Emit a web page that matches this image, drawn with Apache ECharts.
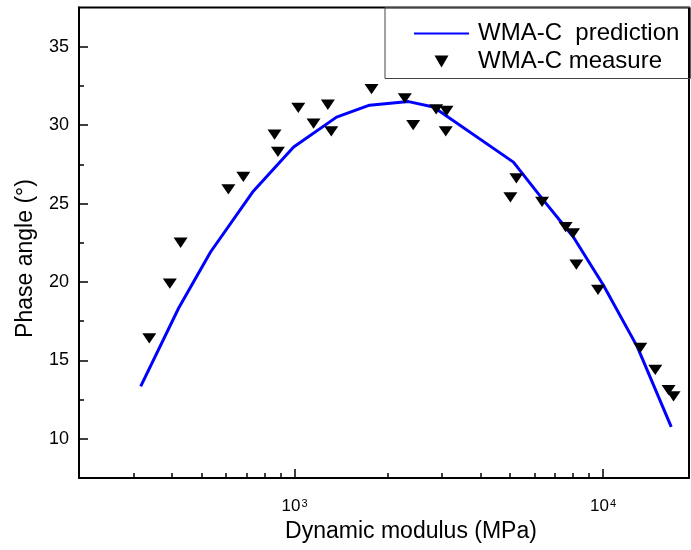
<!DOCTYPE html>
<html><head><meta charset="utf-8">
<script src="https://cdn.jsdelivr.net/npm/echarts@6/dist/echarts.min.js"></script>
<style>html,body{margin:0;padding:0;background:#fff}#c{width:691px;height:550px}</style>
</head><body><div id="c"></div>
<script>
// Measured points (Dynamic modulus MPa, Phase angle deg)
const measureX = [338, 394, 427, 610, 682, 861, 883, 1028, 1152, 1282, 1315, 1776, 2277, 2424, 2877, 3107, 3091, 5008, 5237, 6344, 7564, 7995, 8195, 9634, 13210, 14770, 16310, 16930];
const measureY = [16.4, 19.9, 22.5, 25.9, 26.7, 29.4, 28.3, 31.1, 30.1, 31.3, 29.6, 32.3, 31.7, 30.0, 31.0, 30.9, 29.6, 25.4, 26.6, 25.1, 23.5, 23.1, 21.1, 19.5, 15.8, 14.4, 13.1, 12.7];
// Prediction curve
const predX = [317, 421, 534, 731, 993, 1368, 1750, 2341, 2820, 5122, 6406, 8013, 10020, 12920, 16640];
const predY = [13.34, 18.34, 21.91, 25.73, 28.6, 30.51, 31.27, 31.5, 31.15, 27.64, 25.22, 22.87, 19.81, 15.86, 10.76];
// Ticks
const yMajorTicks = [10, 15, 20, 25, 30, 35];
const yMinorTicks = [12.5, 17.5, 22.5, 27.5, 32.5];
const xMajorTicks = [1000, 10000];
const xMinorTicks = [300, 400, 500, 600, 700, 800, 900, 2000, 3000, 4000, 5000, 6000, 7000, 8000, 9000];
const seriesNames = ['WMA-C  prediction', 'WMA-C measure'];

const FONT = 'Liberation Sans, Arial, sans-serif';
const X_MIN = 200, X_MAX = 19000, Y_MIN = 7.5, Y_MAX = 37.5;
const tri = 'path://M0,0L14,0L7,12Z';

const chart = echarts.init(document.getElementById('c'), null, {renderer: 'canvas'});
const axisLine = {show: true, lineStyle: {color: '#000', width: 2}};
chart.setOption({
  animation: false,
  backgroundColor: '#fff',
  grid: {left: 79, top: 7.5, right: 2, bottom: 72, show: true, borderColor: '#000', borderWidth: 2, containLabel: false},
  legend: {
    orient: 'vertical', left: 385, top: 7.5,
    padding: [13, 11, 4, 28],
    itemWidth: 55, itemHeight: 12, itemGap: 2,
    borderColor: '#444', borderWidth: 1,
    textStyle: {fontFamily: FONT, fontSize: 24, color: '#000', lineHeight: 26, padding: [0, 0, 0, 4]},
    data: [
      {name: seriesNames[0], itemStyle: {opacity: 0}},
      {name: seriesNames[1], icon: tri}
    ]
  },
  xAxis: [{
    type: 'log', logBase: 10, min: X_MIN, max: X_MAX, position: 'bottom', offset: 0,
    name: 'Dynamic modulus (MPa)', nameLocation: 'middle', nameGap: 40,
    nameTextStyle: {fontFamily: FONT, fontSize: 23, color: '#000', padding: [0, 0, 0, 54]},
    axisLine: axisLine,
    axisTick: {show: true, inside: true, length: 9, lineStyle: {color: '#000', width: 1.5}, customValues: xMajorTicks},
    axisLabel: {
      customValues: xMajorTicks, margin: 20, color: '#000', fontFamily: FONT, fontSize: 17,
      formatter: v => '{b|10}{s|' + Math.round(Math.log10(v)) + '}',
      rich: {b: {fontFamily: FONT, fontSize: 17, color: '#000'}, s: {fontFamily: FONT, fontSize: 11, color: '#000', verticalAlign: 'top', padding: [0, 0, 0, 1]}}
    },
    splitLine: {show: false}, minorTick: {show: false}
  }, {
    type: 'log', logBase: 10, min: X_MIN, max: X_MAX, position: 'bottom', offset: 0,
    axisLine: {show: false},
    axisTick: {show: true, inside: true, length: 5, lineStyle: {color: '#000', width: 1.5}, customValues: xMinorTicks},
    axisLabel: {show: false}, splitLine: {show: false}
  }],
  yAxis: [{
    type: 'value', min: Y_MIN, max: Y_MAX, position: 'left', offset: 0,
    name: 'Phase angle (°)', nameLocation: 'middle', nameGap: 42,
    nameTextStyle: {fontFamily: FONT, fontSize: 23, color: '#000', padding: [0, 31.5, 0, 0]},
    axisLine: axisLine,
    axisTick: {show: true, inside: true, length: 9, lineStyle: {color: '#000', width: 1.5}, customValues: yMajorTicks},
    axisLabel: {customValues: yMajorTicks, margin: 10, fontFamily: FONT, fontSize: 18, color: '#000'},
    splitLine: {show: false}
  }, {
    type: 'value', min: Y_MIN, max: Y_MAX, position: 'left', offset: 0,
    axisLine: {show: false},
    axisTick: {show: true, inside: true, length: 5, lineStyle: {color: '#000', width: 1.5}, customValues: yMinorTicks},
    axisLabel: {show: false}, splitLine: {show: false}
  }],
  series: [{
    name: seriesNames[0], type: 'line', xAxisIndex: 0, yAxisIndex: 0,
    data: predX.map((x, i) => [x, predY[i]]),
    showSymbol: false, symbol: 'none', smooth: false,
    lineStyle: {color: '#0000ff', width: 3}, itemStyle: {color: '#0000ff'}, z: 2
  }, {
    name: seriesNames[1], type: 'scatter', xAxisIndex: 0, yAxisIndex: 0,
    data: measureX.map((x, i) => [x, measureY[i]]),
    symbol: tri, symbolSize: [14, 12], symbolKeepAspect: true,
    itemStyle: {color: '#000', opacity: 1}, z: 3
  }]
});
</script></body></html>
